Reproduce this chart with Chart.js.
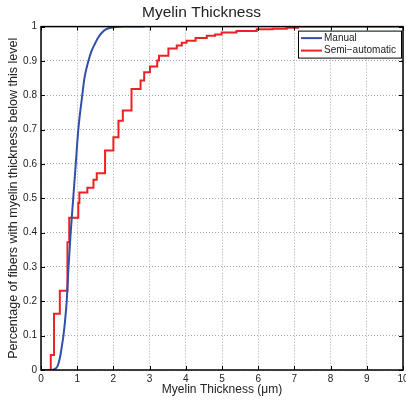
<!DOCTYPE html>
<html>
<head>
<meta charset="utf-8">
<script src="https://cdn.jsdelivr.net/npm/chart.js@4"></script>
<style>
html,body{margin:0;padding:0;background:#fff}
#wrap{width:406px;height:401px}
</style>
</head>
<body>
<div id="wrap"><canvas id="cdfChart"></canvas></div>
<script>
// ==============================
// Myelin thickness CDF
// ==============================

const xTicks = [0,1,2,3,4,5,6,7,8,9,10]
const yTicks = [0,0.1,0.2,0.3,0.4,0.5,0.6,0.7,0.8,0.9,1]

// Manual (smooth cdf)
const manualX = [0.30,0.40,0.46,0.52,0.57,0.62,0.67,0.71,0.76,0.82,0.89,0.96,1.03,1.14,1.20,1.31,1.40,1.49,1.58,1.68,1.78,1.90,2.05,2.30,2.87]
const manualY = [0,0.004,0.012,0.034,0.065,0.10,0.15,0.20,0.30,0.40,0.50,0.60,0.70,0.80,0.85,0.90,0.93,0.95,0.968,0.982,0.991,0.996,0.999,1.0,1.0]

// Semi-automatic (step cdf) : jump position, level after jump
const semiX = [0,0.27,0.36,0.52,0.73,0.78,1.03,1.06,1.28,1.45,1.54,1.77,2.00,2.14,2.26,2.50,2.75,2.85,3.01,3.21,3.26,3.52,3.75,3.89,4.02,4.27,4.58,4.81,4.99,5.40,5.96,6.40,6.79,7.10,10]
const semiY = [0,0.044,0.164,0.231,0.372,0.443,0.486,0.517,0.531,0.554,0.573,0.639,0.678,0.726,0.756,0.818,0.843,0.867,0.884,0.901,0.915,0.936,0.945,0.953,0.959,0.967,0.973,0.977,0.983,0.987,0.992,0.994,0.997,1.0,1.0]

const seriesNames = ["Manual","Semi\u2212automatic"]
const seriesColors = ["#3050a8","#ee2026"]

const FONT = "'Liberation Sans', Arial, Helvetica, sans-serif"

function pairs(xs,ys){
return xs.map((x,i)=>({x:x,y:ys[i]}))
}


// box + inward ticks like matlab

const framePlugin = {
id:"frame",
afterDatasetsDraw(chart){
const {ctx,chartArea:a,scales} = chart
ctx.save()
ctx.strokeStyle="#000"
ctx.lineWidth=1
ctx.beginPath()
const len=4
xTicks.forEach(v=>{
const px=Math.round(scales.x.getPixelForValue(v))+0.5
ctx.moveTo(px,a.bottom); ctx.lineTo(px,a.bottom-len)
ctx.moveTo(px,a.top); ctx.lineTo(px,a.top+len)
})
yTicks.forEach(v=>{
const py=Math.round(scales.y.getPixelForValue(v))+0.5
ctx.moveTo(a.left,py); ctx.lineTo(a.left+len,py)
ctx.moveTo(a.right,py); ctx.lineTo(a.right-len,py)
})
ctx.stroke()
ctx.lineWidth=1.5
ctx.strokeRect(a.left,a.top,a.right-a.left,a.bottom-a.top)
ctx.restore()
}
}


// legend box inside top right

const boxLegend = {
id:"boxLegend",
afterDraw(chart){
const {ctx,chartArea:a} = chart
const w=103, h=27
const x0=a.right-w-2, y0=a.top+4
ctx.save()
ctx.fillStyle="#fff"
ctx.fillRect(x0,y0,w,h)
ctx.strokeStyle="#000"
ctx.lineWidth=1
ctx.strokeRect(x0+0.5,y0+0.5,w,h)
ctx.font="10px "+FONT
ctx.textBaseline="middle"
chart.data.datasets.forEach((ds,i)=>{
const cy=y0+7.5+i*12.5
ctx.strokeStyle=ds.borderColor
ctx.lineWidth=2
ctx.beginPath()
ctx.moveTo(x0+3,cy); ctx.lineTo(x0+24,cy)
ctx.stroke()
ctx.fillStyle="#222"
ctx.fillText(ds.label,x0+26,cy)
})
ctx.restore()
}
}


const cdfChart = new Chart(document.getElementById("cdfChart"),{

type:"line",

data:{
datasets:[
{
label:seriesNames[0],
data:pairs(manualX,manualY),
borderColor:seriesColors[0],
borderWidth:2,
pointRadius:0,
cubicInterpolationMode:"monotone",
fill:false
},
{
label:seriesNames[1],
data:pairs(semiX,semiY),
borderColor:seriesColors[1],
borderWidth:2,
pointRadius:0,
stepped:"before",
fill:false
}
]
},

options:{
responsive:true,
maintainAspectRatio:false,
animation:false,
layout:{padding:{left:0,right:3,top:0,bottom:0}},
plugins:{
legend:{display:false},
tooltip:{enabled:false},
title:{
display:true,
text:"Myelin Thickness",
color:"#222",
font:{family:FONT,size:15.5,weight:"normal"},
padding:{top:3,bottom:5}
}
},
scales:{
x:{
type:"linear",
min:0,max:10,
afterBuildTicks(s){ s.ticks = xTicks.map(v=>({value:v})) },
afterFit(s){ s.height=31; s.paddingLeft=0; s.paddingRight=0 },
grid:{color:"#a8a8a8",drawTicks:false},
border:{display:false,dash:[1,2]},
ticks:{color:"#222",padding:3,maxRotation:0,font:{family:FONT,size:10},callback:v=>String(v)},
title:{display:true,text:"Myelin Thickness (\u03bcm)",color:"#222",font:{family:FONT,size:12},padding:{top:0,bottom:4}}
},
y:{
type:"linear",
min:0,max:1,
afterBuildTicks(s){ s.ticks = yTicks.map(v=>({value:v})) },
afterFit(s){ s.width=41; s.paddingTop=0; s.paddingBottom=0 },
grid:{color:"#a8a8a8",drawTicks:false},
border:{display:false,dash:[1,2]},
ticks:{color:"#222",padding:4,font:{family:FONT,size:10},callback:v=>String(v)},
title:{display:true,text:"Percentage of fibers with myelin thickness below this level",color:"#222",font:{family:FONT,size:12.5},padding:{top:6,bottom:0}}
}
}
},

plugins:[framePlugin,boxLegend]

})
</script>
</body>
</html>
